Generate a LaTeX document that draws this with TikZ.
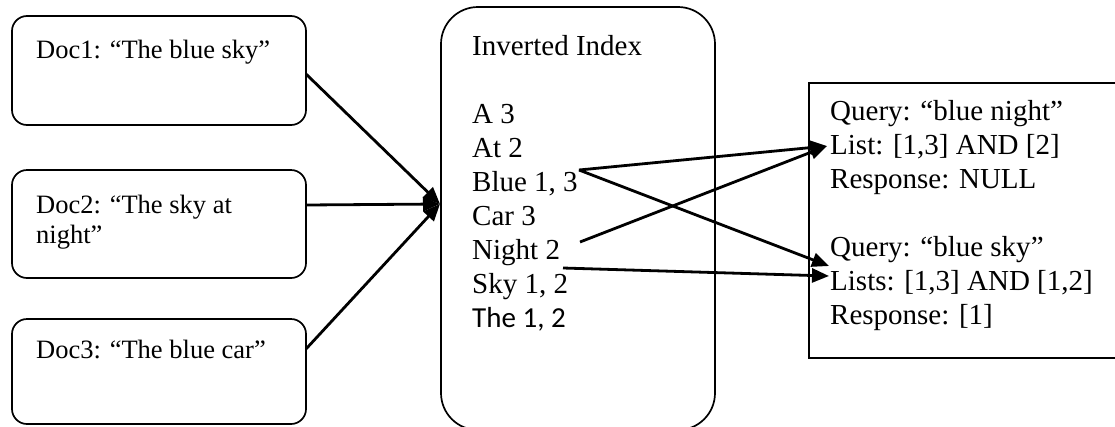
\documentclass[tikz,border=0pt]{standalone}
\usepackage{fontspec}
\setmainfont{Liberation Serif}
\newfontfamily\calibrifont{Carlito}
\usetikzlibrary{arrows.meta}
\begin{document}
\begin{tikzpicture}[x=1pt,y=-1pt,
  docbox/.style={draw, line width=1.7pt, rounded corners=15pt, inner sep=0pt},
  idxbox/.style={draw, line width=1.7pt, rounded corners=37pt, inner sep=0pt},
  qbox/.style={draw, line width=1.7pt, inner sep=0pt},
  txt/.style={anchor=base west, inner sep=0pt, font=\fontsize{29}{34}\selectfont},
  dtxt/.style={anchor=base west, inner sep=0pt, font=\fontsize{26.5}{31}\selectfont},
  arr/.style={line width=2.8pt, -{Triangle[length=17pt,width=14pt]}}]
\useasboundingbox (0,0) rectangle (1115,426);
\clip (0,0) rectangle (1115,426);
% boxes
\node[docbox, minimum width=294pt, minimum height=109pt] (doc1) at (159,70.5) {};
\node[docbox, minimum width=294pt, minimum height=108pt] (doc2) at (159,224) {};
\node[docbox, minimum width=294pt, minimum height=105pt] (doc3) at (159,371.5) {};
\node[idxbox, minimum width=274pt, minimum height=423pt] (idx) at (578,218.5) {};
\node[qbox, minimum width=309pt, minimum height=275pt] (qry) at (963.5,220.5) {};
% doc texts
\node[dtxt] (d1) at (36,58) {Doc1: “The blue sky”};
\node[dtxt] (d2a) at (36,213) {Doc2: “The sky at};
\node[dtxt] (d2b) at (36,243) {night”};
\node[dtxt] (d3) at (36,358) {Doc3: “The blue car”};
% index texts
\node[txt] (ititle) at (472,55) {Inverted Index};
\node[txt] (iA) at (472,123) {A 3};
\node[txt] (iAt) at (472,157) {At 2};
\node[txt] (iBlue) at (472,191) {Blue 1, 3};
\node[txt] (iCar) at (472,225) {Car 3};
\node[txt] (iNight) at (472,259) {Night 2};
\node[txt] (iSky) at (472,293) {Sky 1, 2};
\node[txt, font=\calibrifont\fontsize{29}{34}\selectfont] (iThe) at (472,327) {The 1, 2};
% query texts
\node[txt] (q1) at (830,120) {Query: “blue night”};
\node[txt] (q1l) at (830,154) {List: [1,3] AND [2]};
\node[txt] (q1r) at (830,188) {Response: NULL};
\node[txt] (q2) at (830,256) {Query: “blue sky”};
\node[txt] (q2l) at (830,290) {Lists: [1,3] AND [1,2]};
\node[txt] (q2r) at (830,324) {Response: [1]};
% connector end points
\coordinate (d1out) at (306,74);
\coordinate (d2out) at (306,205);
\coordinate (d3out) at (306,349);
\coordinate (idxin) at (440,204);
\coordinate (blueout) at (579,170);
\coordinate (nightout) at (580,242);
\coordinate (skyout) at (563,268);
\coordinate (listin) at (827,146);
\coordinate (listsinA) at (829,266);
\coordinate (listsinB) at (829,276);
% connectors
\draw[arr] (d1out) -- (idxin);
\draw[arr] (d2out) -- (idxin);
\draw[arr] (d3out) -- (idxin);
\draw[arr] (blueout) -- (listin);
\draw[arr] (nightout) -- (listin);
\draw[arr] (blueout) -- (listsinA);
\draw[arr] (skyout) -- (listsinB);
\end{tikzpicture}
\end{document}
